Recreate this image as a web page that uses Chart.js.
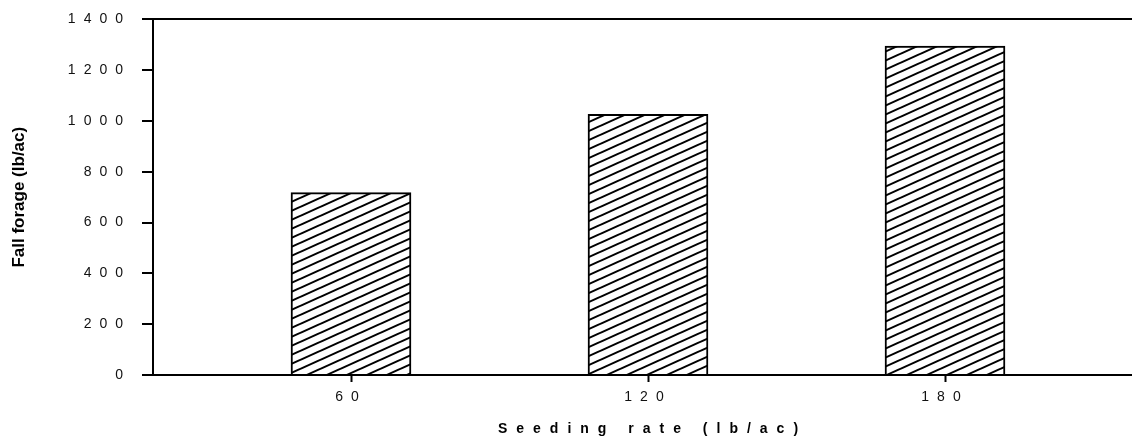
<!DOCTYPE html>
<html>
<head>
<meta charset="utf-8">
<script src="https://cdn.jsdelivr.net/npm/chart.js@4/dist/chart.umd.min.js"></script>
<style>
  html, body { margin: 0; padding: 0; background: #fff; overflow: hidden; }
  #wrap { width: 1132px; height: 441px; overflow: hidden; }
</style>
</head>
<body>
<div id="wrap"><canvas id="c" width="1143" height="441"></canvas></div>
<script>
// ---- data ----
const seedingRates = [60, 120, 180];
const fallForage = [718, 1026, 1295];
const yTicks = [0, 200, 400, 600, 800, 1000, 1200, 1400];
const xTitle = 'Seeding rate (lb/ac)';
const yTitle = 'Fall forage (lb/ac)';

// hatch pattern
function makeHatch() {
  const t = document.createElement('canvas');
  t.width = 20; t.height = 9;
  const g = t.getContext('2d');
  g.fillStyle = '#fff';
  g.fillRect(0, 0, 20, 9);
  g.strokeStyle = '#000';
  g.lineWidth = 2;
  for (let k = -3; k <= 3; k++) {
    g.beginPath();
    g.moveTo(-20, 9 * k + 18);
    g.lineTo(40, 9 * k - 9);
    g.stroke();
  }
  return g.createPattern(t, 'repeat');
}

const SPACING = '8px';
const spacingPlugin = {
  id: 'spacing',
  beforeLayout(chart) { chart.ctx.letterSpacing = SPACING; },
  beforeDraw(chart) { chart.ctx.letterSpacing = SPACING; },
  afterDraw(chart) {
    const ctx = chart.ctx;
    const ca = chart.chartArea;
    ctx.save();
    ctx.fillStyle = '#000';
    ctx.letterSpacing = '9px';
    ctx.font = 'bold 14px "Liberation Sans", Arial, sans-serif';
    ctx.textAlign = 'center';
    ctx.textBaseline = 'middle';
    ctx.fillText(xTitle, (ca.left + ca.right) / 2 + 4.5, 429);
    ctx.restore();

    ctx.save();
    ctx.fillStyle = '#000';
    ctx.letterSpacing = '0px';
    ctx.font = 'bold 17px "Liberation Sans", Arial, sans-serif';
    ctx.textAlign = 'center';
    ctx.textBaseline = 'middle';
    ctx.translate(19, (ca.top + ca.bottom) / 2);
    ctx.rotate(-Math.PI / 2);
    ctx.fillText(yTitle, 0, 0);
    ctx.restore();
  }
};

const ctx = document.getElementById('c').getContext('2d');
new Chart(ctx, {
  type: 'bar',
  data: {
    datasets: [{
      data: seedingRates.map((x, i) => ({ x: x, y: fallForage[i] })),
      backgroundColor: makeHatch(),
      borderColor: '#000',
      borderWidth: 2,
      barThickness: 120
    }]
  },
  options: {
    responsive: false,
    animation: false,
    devicePixelRatio: 1,
    layout: { padding: { top: 17, left: 0, right: 0, bottom: 0 } },
    plugins: { legend: { display: false }, tooltip: { enabled: false } },
    scales: {
      x: {
        type: 'linear',
        min: 20,
        max: 220,
        offset: false,
        afterBuildTicks: (s) => { s.ticks = seedingRates.map(v => ({ value: v })); },
        afterFit: (s) => { s.height = 66; },
        border: { display: true, color: '#000', width: 2 },
        grid: { offset: false, drawOnChartArea: false, drawTicks: true, tickLength: 7, tickColor: '#000', tickWidth: 2 },
        ticks: {
          color: '#111',
          padding: 7,
          maxRotation: 0,
          font: { family: '"Liberation Sans", Arial, sans-serif', size: 14 },
          callback: (v) => String(v)
        }
      },
      y: {
        min: 0,
        max: 1400,
        afterBuildTicks: (s) => { s.ticks = yTicks.map(v => ({ value: v })); },
        afterFit: (s) => { s.width = 153; },
        border: { display: true, color: '#000', width: 2 },
        grid: {
          drawOnChartArea: true,
          drawTicks: true,
          tickLength: 11,
          lineWidth: 2,
          tickWidth: 2,
          color: (c) => (c.tick && c.tick.value === 1400 ? '#000' : 'rgba(0,0,0,0)'),
          tickColor: '#000'
        },
        ticks: {
          color: '#111',
          padding: 11,
          font: { family: '"Liberation Sans", Arial, sans-serif', size: 14 },
          callback: (v) => String(v)
        }
      }
    }
  },
  plugins: [spacingPlugin]
});
</script>
</body>
</html>
